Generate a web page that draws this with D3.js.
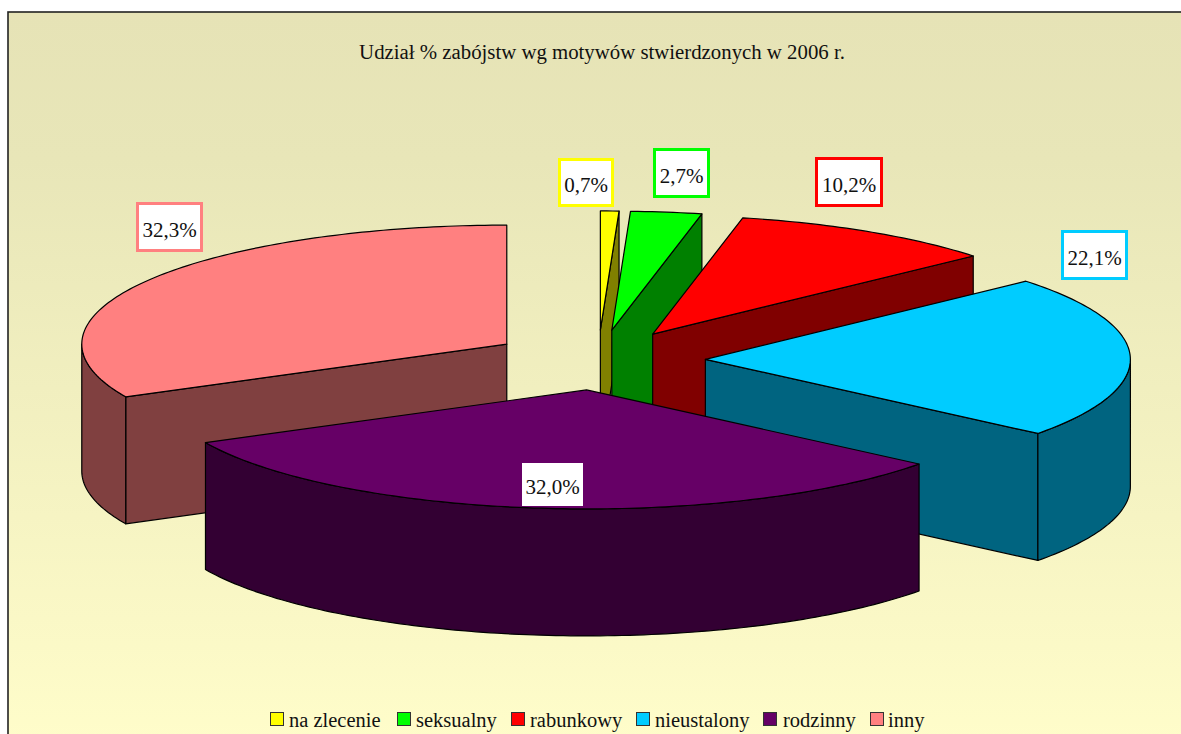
<!DOCTYPE html>
<html><head><meta charset="utf-8">
<script src="https://d3js.org/d3.v7.min.js"></script>
<style>html,body{margin:0;padding:0;background:#fff;overflow:hidden}svg{display:block}text{font-family:"Liberation Serif",serif;fill:#111}</style>
</head><body><div id="chart"></div>
<script>
const categories = ["na zlecenie","seksualny","rabunkowy","nieustalony","rodzinny","inny"];
const values = [0.7,2.7,10.2,22.1,32.0,32.3];
const valueLabels = ["0,7%","2,7%","10,2%","22,1%","32,0%","32,3%"];
const topColors = ["#FFFF00","#00FF00","#FF0000","#00CCFF","#660066","#FF8080"];
const sideColors = ["#808000","#008000","#800000","#006480","#330033","#804040"];
const title = "Udział % zabójstw wg motywów stwierdzonych w 2006 r.";

// layout
const W = 1181, H = 734;
const cx = 598, cy = 360, rx = 425, ry = 119, depth = 127, explode = 0.2527;
const drawOrder = [0,1,2,3,5,4];
const labelBoxes = [[559.5,159.5,53,46],[654.5,149.5,54,47],[816.5,158.5,65,47],[1062.5,231.5,64,47],[522,463,61,43],[137.5,203.5,64,47]];
const legendX = [270,397,511,636,763,870];
const legendTextX = [289,416,530,655,783,888];

const svg = d3.select("#chart").append("svg").attr("width",W).attr("height",H);
const defs = svg.append("defs");
const g = defs.append("linearGradient").attr("id","bg").attr("x1",0).attr("y1",0).attr("x2",0).attr("y2",1);
g.append("stop").attr("offset","0").attr("stop-color","#E6E3B6");
g.append("stop").attr("offset","0.2").attr("stop-color","#E8E6B8");
g.append("stop").attr("offset","1").attr("stop-color","#FFFDCA");
svg.append("rect").attr("x",8).attr("y",12).attr("width",W).attr("height",H).attr("fill","url(#bg)").attr("stroke","#222").attr("stroke-width",1.6);

svg.append("text").attr("x",602).attr("y",59).attr("text-anchor","middle").attr("font-size",20.8).text(title);

const pie = d3.pie().sort(null).value(d=>d)(values);
const line = d3.line().x(d=>d[0]).y(d=>d[1]);
const stepDeg = Math.PI/180;

drawOrder.forEach(i=>{
  const p=pie[i];
  const mid=(p.startAngle+p.endAngle)/2;
  const ax=cx+explode*rx*Math.sin(mid), ay=cy-explode*ry*Math.cos(mid);
  const pt=(a,dz=0)=>[ax+rx*Math.sin(a), ay-ry*Math.cos(a)+dz];
  const arcPts=(a0,a1,dz=0)=>{
    const n=Math.max(2,Math.ceil((a1-a0)/stepDeg));
    return d3.range(n+1).map(k=>pt(a0+(a1-a0)*k/n,dz));
  };
  const s=svg.append("g");
  const style=sel=>sel.attr("stroke","#000").attr("stroke-width",1.2).attr("stroke-linejoin","round");
  const eps=1e-6;
  if(Math.sin(p.startAngle)<-eps)
    style(s.append("path").attr("fill",sideColors[i]).attr("d",line([[ax,ay],pt(p.startAngle),pt(p.startAngle,depth),[ax,ay+depth]])+"Z"));
  if(Math.sin(p.endAngle)>eps)
    style(s.append("path").attr("fill",sideColors[i]).attr("d",line([[ax,ay],pt(p.endAngle),pt(p.endAngle,depth),[ax,ay+depth]])+"Z"));
  const a0=Math.max(p.startAngle,Math.PI/2), a1=Math.min(p.endAngle,3*Math.PI/2);
  if(a1>a0){
    const pts=arcPts(a0,a1).concat(arcPts(a0,a1,depth).reverse());
    style(s.append("path").attr("fill",sideColors[i]).attr("d",line(pts)+"Z"));
  }
  style(s.append("path").attr("fill",topColors[i]).attr("d",line([[ax,ay]].concat(arcPts(p.startAngle,p.endAngle)))+"Z"));
});

valueLabels.forEach((t,i)=>{
  const b=labelBoxes[i], bordered=i!==4;
  svg.append("rect").attr("x",b[0]).attr("y",b[1]).attr("width",b[2]).attr("height",b[3]).attr("fill","#fff")
    .attr("stroke",bordered?topColors[i]:"none").attr("stroke-width",3);
  svg.append("text").attr("x",b[0]+b[2]/2).attr("y",b[1]+b[3]/2+9.5).attr("text-anchor","middle").attr("font-size",21).text(t);
});

categories.forEach((c,i)=>{
  svg.append("rect").attr("x",legendX[i]+.5).attr("y",712.5).attr("width",13).attr("height",13).attr("fill",topColors[i]).attr("stroke","#333").attr("stroke-width",1);
  svg.append("text").attr("x",legendTextX[i]).attr("y",727).attr("font-size",20.5).text(c);
});
</script></body></html>
